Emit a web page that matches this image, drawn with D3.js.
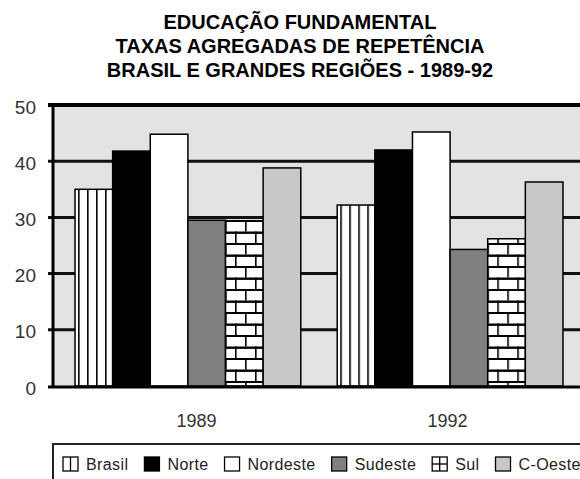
<!DOCTYPE html>
<html>
<head>
<meta charset="utf-8">
<script src="https://cdn.jsdelivr.net/npm/d3@7"></script>
<style>
  body { margin: 0; background: #fff; }
  svg { display: block; font-family: "Liberation Sans", Arial, sans-serif; }
</style>
</head>
<body>
<svg width="580" height="479"></svg>
<script>
const titleLines = ["EDUCAÇÃO FUNDAMENTAL", "TAXAS AGREGADAS DE REPETÊNCIA", "BRASIL E GRANDES REGIÕES - 1989-92"];
const years = ["1989", "1992"];
const regions = ["Brasil", "Norte", "Nordeste", "Sudeste", "Sul", "C-Oeste"];
const rate1989 = [35.0, 41.8, 44.8, 29.5, 29.4, 38.8];
const rate1992 = [32.2, 42.0, 45.2, 24.3, 26.2, 36.3];
const yTicks = [0, 10, 20, 30, 40, 50];

const fills = ["url(#stripes)", "#000", "#fff", "#808080", "url(#bricks)", "#c8c8c8"];

const svg = d3.select("svg");
const plotLeft = 53, plotRight = 585, plotTop = 105, plotBottom = 386;

// patterns
const defs = svg.append("defs");
const stripes = defs.append("pattern")
  .attr("id", "stripes")
  .attr("patternUnits", "userSpaceOnUse")
  .attr("width", 9).attr("height", 8).attr("x", 75);
stripes.append("rect").attr("width", 9).attr("height", 8).attr("fill", "#fff");
stripes.append("rect").attr("width", 1.6).attr("height", 8).attr("fill", "#000");

const bricks = defs.append("pattern")
  .attr("id", "bricks")
  .attr("patternUnits", "userSpaceOnUse")
  .attr("width", 20).attr("height", 23).attr("y", 220);
bricks.append("rect").attr("width", 20).attr("height", 23).attr("fill", "#fff");
bricks.append("rect").attr("y", 0).attr("width", 20).attr("height", 2).attr("fill", "#000");
bricks.append("rect").attr("y", 11.5).attr("width", 20).attr("height", 2.4).attr("fill", "#000");
bricks.append("rect").attr("x", 10).attr("y", 0).attr("width", 1.6).attr("height", 11.5).attr("fill", "#000");
bricks.append("rect").attr("x", 0).attr("y", 11.5).attr("width", 1.6).attr("height", 11.5).attr("fill", "#000");

// title
svg.append("g")
  .selectAll("text")
  .data(titleLines)
  .enter().append("text")
  .attr("x", 300)
  .attr("y", (d, i) => 29 + i * 24)
  .attr("text-anchor", "middle")
  .attr("font-size", "20px")
  .attr("font-weight", "bold")
  .attr("fill", "#000")
  .text(d => d);

// scales
const y = d3.scaleLinear().domain([0, 50]).range([plotBottom, plotTop]);
const x0 = d3.scaleBand().domain(years).range([plotLeft, plotRight])
  .paddingInner(0.139).paddingOuter(0.084);
const x1 = d3.scaleBand().domain(regions).range([0, x0.bandwidth()]);
const xLabel = d3.scalePoint().domain(years).range([plotLeft + 3, plotRight + 3]).padding(0.56);

// plot background
svg.append("rect")
  .attr("x", plotLeft).attr("y", plotTop)
  .attr("width", 600 - plotLeft).attr("height", plotBottom - plotTop)
  .attr("fill", "#e3e3e3");

// gridlines (behind bars)
svg.append("g")
  .selectAll("line")
  .data(yTicks.filter(d => d > 0 && d < 50))
  .enter().append("line")
  .attr("x1", 48).attr("x2", 600)
  .attr("y1", d => y(d)).attr("y2", d => y(d))
  .attr("stroke", "#111")
  .attr("stroke-width", 3);

// bars
const table = years.map((yr, i) => ({
  year: yr,
  values: regions.map((r, j) => ({ region: r, idx: j, value: (i === 0 ? rate1989 : rate1992)[j] }))
}));

svg.append("g")
  .selectAll("g")
  .data(table)
  .enter().append("g")
  .attr("transform", d => `translate(${x0(d.year)},0)`)
  .selectAll("rect")
  .data(d => d.values)
  .enter().append("rect")
  .attr("x", d => x1(d.region))
  .attr("y", d => y(d.value))
  .attr("width", x1.bandwidth())
  .attr("height", d => y(0) - y(d.value))
  .attr("fill", d => fills[d.idx])
  .attr("stroke", "#000")
  .attr("stroke-width", 1.5);

// frame lines
svg.append("line")
  .attr("x1", 48).attr("x2", 600)
  .attr("y1", y(50)).attr("y2", y(50))
  .attr("stroke", "#000").attr("stroke-width", 4);
svg.append("line")
  .attr("x1", plotLeft).attr("x2", plotLeft)
  .attr("y1", y(50) - 2).attr("y2", y(0) + 2)
  .attr("stroke", "#000").attr("stroke-width", 3);
svg.append("line")
  .attr("x1", 48).attr("x2", 600)
  .attr("y1", y(0) + 1).attr("y2", y(0) + 1)
  .attr("stroke", "#000").attr("stroke-width", 3);

// y tick labels
svg.append("g")
  .selectAll("text")
  .data(yTicks)
  .enter().append("text")
  .attr("x", 36)
  .attr("y", d => y(d) + 8.5)
  .attr("text-anchor", "end")
  .attr("font-size", "19px")
  .attr("fill", "#333")
  .text(d => d);

// x labels
svg.append("g")
  .selectAll("text")
  .data(years)
  .enter().append("text")
  .attr("x", d => xLabel(d))
  .attr("y", 427)
  .attr("text-anchor", "middle")
  .attr("font-size", "18px")
  .attr("fill", "#333")
  .text(d => d);

// legend
const legend = svg.append("g");
legend.append("rect")
  .attr("x", 53).attr("y", 444)
  .attr("width", 600).attr("height", 60)
  .attr("fill", "#fff")
  .attr("stroke", "#222")
  .attr("stroke-width", 2);

let lx = 63;
regions.forEach((r, i) => {
  const g = legend.append("g");
  g.append("rect")
    .attr("x", lx).attr("y", 457)
    .attr("width", 15).attr("height", 14)
    .attr("fill", i === 0 || i === 4 ? "#fff" : fills[i])
    .attr("stroke", "#000")
    .attr("stroke-width", 1.3);
  if (i === 0 || i === 4) {
    g.append("line")
      .attr("x1", lx + 7.5).attr("x2", lx + 7.5)
      .attr("y1", 457).attr("y2", 471)
      .attr("stroke", "#000").attr("stroke-width", 1.3);
  }
  if (i === 4) {
    g.append("line")
      .attr("x1", lx).attr("x2", lx + 15)
      .attr("y1", 464).attr("y2", 464)
      .attr("stroke", "#000").attr("stroke-width", 1.3);
  }
  const t = g.append("text")
    .attr("x", lx + 23)
    .attr("y", 470)
    .attr("font-size", "16px")
    .attr("letter-spacing", "0.4px")
    .attr("fill", "#222")
    .text(r);
  lx += 23 + t.node().getComputedTextLength() + 16;
});
</script>
</body>
</html>
